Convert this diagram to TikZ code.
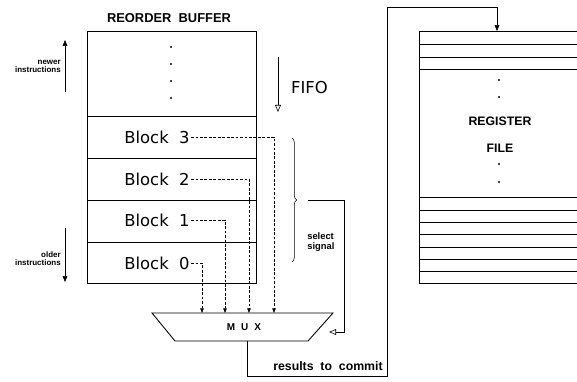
\documentclass[tikz,border=0pt]{standalone}
\usepackage{fontspec}
\setmainfont{DejaVu Sans}
\newfontfamily\arialish{Liberation Sans}
\usetikzlibrary{arrows.meta, positioning, decorations.pathreplacing}

\begin{document}
\begin{tikzpicture}[x=0.03cm, y=-0.03cm, line width=0.5pt,
  frame/.style={draw, line width=0.75pt},
  blk/.style={font=\fontsize{14}{16}\selectfont, inner sep=1pt},
  title/.style={font=\arialish\bfseries\fontsize{10.5}{12}\selectfont},
  tiny/.style={font=\arialish\bfseries\fontsize{6.8}{7}\selectfont, align=right, anchor=east, inner sep=0pt},
  sel/.style={dash pattern=on 2.4pt off 1.4pt, -{Triangle[length=4pt,width=3pt]}},
  openhead/.style={-{Triangle[open,length=6pt,width=5pt]}},
  fullhead/.style={-{Triangle[length=5pt,width=4pt]}}]
  \useasboundingbox (0,0) rectangle (577,381);

  \node[title, font=\arialish\bfseries\fontsize{11}{12}\selectfont] (robtitle) at (169,18) {REORDER\ \ BUFFER};
  \draw[frame] (87,31) rectangle (256,283);
  \foreach \y in {116,158,200,242} \draw[frame] (87,\y) -- (256,\y);
  \foreach \y in {47,64,81,98} \fill (171,\y) circle (1pt);

  \node[blk] (b3) at (157,137) {Block\ \ 3};
  \node[blk] (b2) at (157,179) {Block\ \ 2};
  \node[blk] (b1) at (157,220) {Block\ \ 1};
  \node[blk] (b0) at (157,263) {Block\ \ 0};

  \draw[fullhead] (65,92) -- (65,40);
  \node[tiny] (newer) at (61,66) {newer\\instructions};
  \draw[fullhead] (65,228) -- (65,282);
  \node[tiny] (older) at (61,259) {older\\instructions};

  \draw[openhead] (278,57) -- ++(0,55);
  \node[font=\fontsize{14}{16}\selectfont, anchor=west] (fifo) at (287,88) {FIFO};

  \draw[frame] (152,313) -- (333,313) -- (308,341) -- (175,341) -- cycle;
  \node[font=\arialish\bfseries\fontsize{8.5}{9}\selectfont] (mux) at (244,327) {M\hspace{.6em}U\hspace{.6em}X};
  \coordinate (in0) at (202,313);
  \coordinate (in1) at (225,313);
  \coordinate (in2) at (249,313);
  \coordinate (in3) at (274,313);
  \draw[sel] (b3.east) -| (in3);
  \draw[sel] (b2.east) -| (in2);
  \draw[sel] (b1.east) -| (in1);
  \draw[sel] (b0.east) -| (in0);

  \draw[decorate, decoration={brace, amplitude=4pt}] (292,138) -- (292,262);
  \coordinate (selsrc) at (308,200);
  \coordinate (selin) at (329,332);
  \draw[openhead] (selsrc) -- ++(36,0) |- (selin);
  \node[font=\arialish\bfseries\fontsize{8}{8.8}\selectfont, align=left, anchor=west, inner sep=0pt] (selsig) at (307,242) {select\\signal};

  \coordinate (muxout) at (247,341);
  \coordinate (rfin) at (497,31);
  \draw[fullhead] (muxout) -- ++(0,35) -| ++(140,-369) -| (rfin);
  \node[title] (commit) at (328,366) {results\ \ to\ \ commit};

  \draw[frame] (419,31) rectangle (590,283);
  \foreach \y in {44,57,69,197,210,222,234,247,259,271} \draw[frame] (419,\y) -- (590,\y);
  \foreach \y in {80,97,164,182} \fill (499,\y) circle (1pt);
  \node[title] (regname) at (500,121) {REGISTER};
  \node[title] (regfile) at (500,148) {FILE};
\end{tikzpicture}
\end{document}
